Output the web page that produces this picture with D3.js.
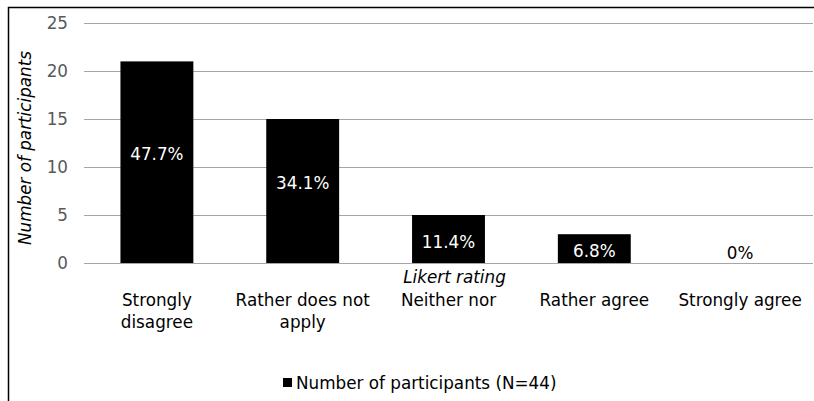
<!DOCTYPE html>
<html>
<head>
<meta charset="utf-8">
<script src="https://cdn.jsdelivr.net/npm/d3@7"></script>
<style>
  body { margin: 0; background: #fff; }
  text { font-family: "DejaVu Sans", Verdana, sans-serif; }
</style>
</head>
<body>
<div id="chart"></div>
<script>
// data
const categories = [["Strongly", "disagree"], ["Rather does not", "apply"], ["Neither nor"], ["Rather agree"], ["Strongly agree"]];
const participants = [21, 15, 5, 3, 0];
const percentLabels = ["47.7%", "34.1%", "11.4%", "6.8%", "0%"];
const yTicks = [0, 5, 10, 15, 20, 25];

const width = 814, height = 401;
const margin = {top: 23, right: 1, bottom: 138, left: 84};
const plotW = width - margin.left - margin.right,
      plotH = height - margin.top - margin.bottom;
const fs = 16.8;

const svg = d3.select("#chart")
  .append("svg")
  .attr("width", width)
  .attr("height", height);

// outer frame (only top and left visible)
svg.append("path")
  .attr("d", `M8.5,${height} L8.5,7.5 L${width},7.5`)
  .attr("fill", "none")
  .attr("stroke", "#000")
  .attr("stroke-width", 1.5);

const g = svg.append("g")
  .attr("transform", `translate(${margin.left},${margin.top})`);

const x = d3.scaleBand()
  .domain(d3.range(categories.length))
  .range([0, plotW])
  .paddingInner(0.5)
  .paddingOuter(0.25);

const y = d3.scaleLinear()
  .domain([0, 25])
  .range([plotH, 0]);

// gridlines
g.append("g")
  .selectAll("line")
  .data(yTicks)
  .join("line")
  .attr("x1", 0)
  .attr("x2", plotW)
  .attr("y1", d => Math.round(y(d)) + 0.5)
  .attr("y2", d => Math.round(y(d)) + 0.5)
  .attr("stroke", "#a6a6a6")
  .attr("stroke-width", 1);

// Y axis labels
const yAxis = g.append("g")
  .call(d3.axisLeft(y).tickValues(yTicks).tickSize(0).tickPadding(16));
yAxis.select(".domain").remove();
yAxis.selectAll("text")
  .style("font-family", '"DejaVu Sans", Verdana, sans-serif')
  .attr("font-size", fs)
  .attr("fill", "#595959");

// bars
g.selectAll("rect.bar")
  .data(participants)
  .join("rect")
  .attr("class", "bar")
  .attr("x", (d, i) => x(i))
  .attr("width", x.bandwidth())
  .attr("y", d => y(d))
  .attr("height", d => plotH - y(d))
  .attr("fill", "#000");

// data labels
g.selectAll("text.pct")
  .data(percentLabels)
  .join("text")
  .attr("class", "pct")
  .attr("x", (d, i) => x(i) + x.bandwidth() / 2)
  .attr("y", (d, i) => participants[i] > 0 ? y(participants[i] / 2) - (participants[i] > 10 ? 8 : -3) : y(1))
  .attr("dy", "0.35em")
  .attr("text-anchor", "middle")
  .attr("font-size", fs)
  .attr("fill", (d, i) => participants[i] > 0 ? "#fff" : "#000")
  .text(d => d);

// category labels
const catLabels = g.selectAll("text.cat")
  .data(categories)
  .join("text")
  .attr("class", "cat")
  .attr("text-anchor", "middle")
  .attr("font-size", fs)
  .attr("fill", "#000")
  .attr("transform", (d, i) => `translate(${x(i) + x.bandwidth() / 2},${plotH + 43})`);
catLabels.selectAll("tspan")
  .data(d => d)
  .join("tspan")
  .attr("x", 0)
  .attr("dy", (d, j) => j === 0 ? 0 : 22)
  .text(d => d);

// x axis title
g.append("text")
  .attr("x", x(2) + x.bandwidth() / 2 + 6)
  .attr("y", plotH + 20)
  .attr("text-anchor", "middle")
  .attr("font-size", fs)
  .attr("font-style", "italic")
  .text("Likert rating");

// y axis title
svg.append("text")
  .attr("transform", `translate(31,${margin.top + plotH / 2 + 5}) rotate(-90)`)
  .attr("text-anchor", "middle")
  .attr("font-size", fs)
  .attr("font-style", "italic")
  .text("Number of participants");

// legend
const legend = svg.append("g")
  .attr("transform", "translate(283,383)");
legend.append("rect")
  .attr("x", 0)
  .attr("y", -5)
  .attr("width", 9)
  .attr("height", 9)
  .attr("fill", "#000");
legend.append("text")
  .attr("x", 13)
  .attr("y", 0)
  .attr("dy", "0.35em")
  .attr("font-size", fs)
  .text("Number of participants (N=44)");
</script>
</body>
</html>
